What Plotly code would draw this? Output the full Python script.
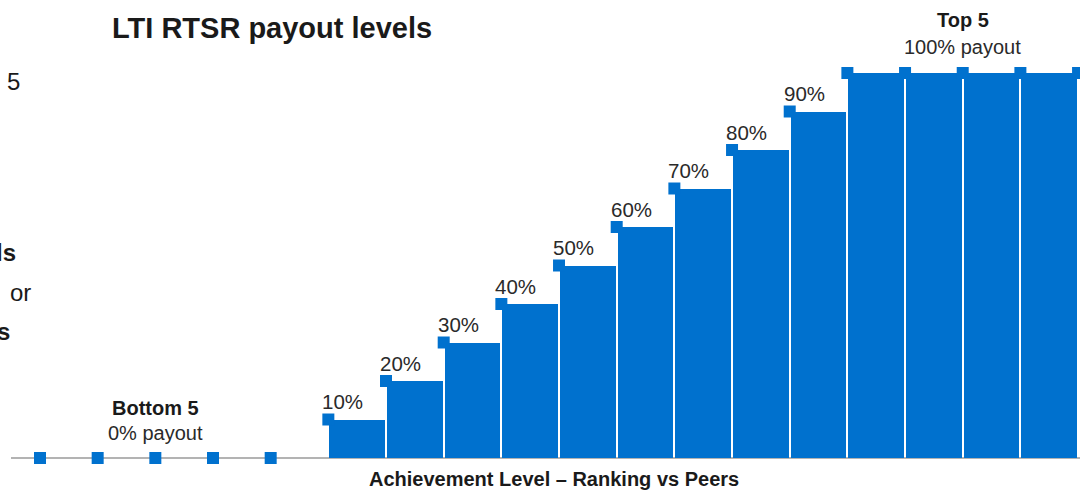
import plotly.graph_objects as go

# ---- data ----
ranks = list(range(19))  # ranking positions (bottom to top)
payout = [0, 0, 0, 0, 0, 10, 20, 30, 40, 50, 60, 70, 80, 90, 100, 100, 100, 100, 100]
step_labels = ["10%", "20%", "30%", "40%", "50%", "60%", "70%", "80%", "90%"]
step_idx = [5, 6, 7, 8, 9, 10, 11, 12, 13]

BLUE = "#0071ce"
TXT = "#1a1a1a"
FONT = "Liberation Sans, Arial, sans-serif"

W, H = 1080, 492
ML = 11
px_per_x = 57.67
x0 = -(40 - ML) / px_per_x
x1 = x0 + (W - ML) / px_per_x
px_per_y = 3.85
base = 458
y0 = -(H - base) / px_per_y
y1 = y0 + H / px_per_y

fig = go.Figure()

# step bars: each bar spans from one rank to the next at that rank's payout
fig.add_trace(go.Bar(
    x=ranks[5:-1], y=payout[5:-1], offset=0.017, width=0.966,
    marker=dict(color=BLUE, line=dict(width=0)), hoverinfo="skip",
))

# square markers at each rank
fig.add_trace(go.Scatter(
    x=ranks, y=payout, mode="markers",
    marker=dict(symbol="square", size=12, color=BLUE, line=dict(width=0)),
    hoverinfo="skip", cliponaxis=False,
))

ann = []
for lab, i in zip(step_labels, step_idx):
    ann.append(dict(x=ranks[i], y=payout[i], xref="x", yref="y", text=lab,
                    showarrow=False, xanchor="left", yanchor="middle",
                    xshift=-8, yshift=18, font=dict(size=20.5, color="#2a2a2a", family=FONT)))

# group labels
ann += [
    dict(x=ranks[2], y=payout[2], xref="x", yref="y", text="<b>Bottom 5</b>", showarrow=False,
         xanchor="center", yanchor="middle", yshift=50, font=dict(size=20, color=TXT, family=FONT)),
    dict(x=ranks[2], y=payout[2], xref="x", yref="y", text="0% payout", showarrow=False,
         xanchor="center", yanchor="middle", yshift=25, font=dict(size=20, color="#2a2a2a", family=FONT)),
    dict(x=ranks[16], y=payout[16], xref="x", yref="y", text="<b>Top 5</b>", showarrow=False,
         xanchor="center", yanchor="middle", yshift=53, font=dict(size=20, color=TXT, family=FONT)),
    dict(x=ranks[16], y=payout[16], xref="x", yref="y", text="100% payout", showarrow=False,
         xanchor="center", yanchor="middle", yshift=26, font=dict(size=20, color="#2a2a2a", family=FONT)),
]

def px_x(p):
    return (p - ML) / (W - ML)

def px_y(p):
    return (H - p) / H

# title and axis title
ann += [
    dict(x=px_x(110), y=px_y(28), xref="paper", yref="paper", text="<b>LTI RTSR payout levels</b>",
         showarrow=False, xanchor="left", yanchor="middle", font=dict(size=29, color=TXT, family=FONT)),
    dict(x=px_x(554), y=px_y(479), xref="paper", yref="paper",
         text="<b>Achievement Level – Ranking vs Peers</b>",
         showarrow=False, xanchor="center", yanchor="middle", font=dict(size=20, color=TXT, family=FONT)),
]

# cut-off text fragments from the neighbouring panel on the left (cropped in the reference too)
frags = [("5", 22, 82, False), ("ls", 18, 253, True), ("or", 33, 292, False), ("s", 12, 331, True)]
for t, xr, yc, b in frags:
    ann.append(dict(x=px_x(xr), y=px_y(yc), xref="paper", yref="paper",
                    text=f"<b>{t}</b>" if b else t, showarrow=False,
                    xanchor="right", yanchor="middle",
                    font=dict(size=24, color=TXT, family=FONT)))

fig.update_layout(
    width=W, height=H,
    margin=dict(l=ML, r=0, t=0, b=0),
    paper_bgcolor="white", plot_bgcolor="white",
    showlegend=False, bargap=0,
    annotations=ann,
    xaxis=dict(range=[x0, x1], visible=False, showgrid=False, zeroline=False, fixedrange=True),
    yaxis=dict(range=[y0, y1], showgrid=False, showticklabels=False, ticks="",
               zeroline=True, zerolinecolor="#b3b3b3", zerolinewidth=2, showline=False, fixedrange=True),
)

fig.write_html("out.html", config={"displayModeBar": False},
               post_script="document.body.style.margin='0px';document.body.style.overflow='hidden';")
